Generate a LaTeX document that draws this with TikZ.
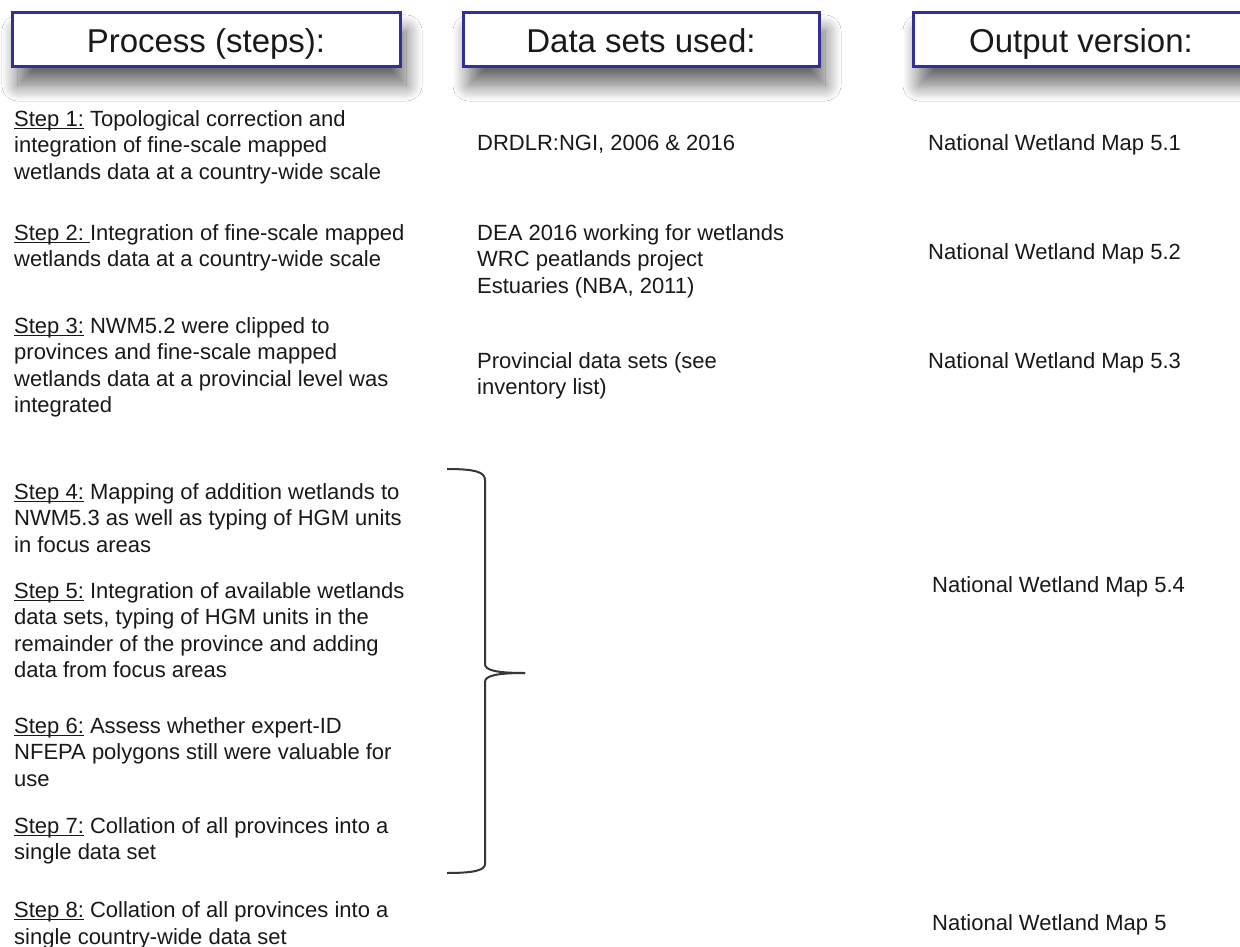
\documentclass[tikz,border=0pt]{standalone}
\usepackage{fontspec}
\setmainfont{Liberation Sans}
\usetikzlibrary{shadows.blur}
\definecolor{boxblue}{RGB}{48,48,150}
\definecolor{txt}{RGB}{25,25,25}
\definecolor{bracecol}{RGB}{55,55,55}
\newcommand{\su}[1]{{\setbox0\hbox{#1}\rlap{\rule[-3pt]{\wd0}{1.3pt}}\box0}}
\begin{document}
\begin{tikzpicture}[x=1pt,y=-1pt,
  hdr/.style={draw=boxblue, line width=3pt, fill=white, minimum height=54pt,
    inner sep=0pt, text height=26pt, text depth=0pt,
    font=\fontsize{33}{40}\selectfont, text=txt,
    blur shadow={shadow xshift=6pt, shadow yshift=-18pt, shadow blur radius=16pt,
      shadow blur steps=20, shadow opacity=60}},
  body/.style={anchor=base west, inner sep=0pt, align=left,
    font=\fontsize{22}{26.6}\selectfont, text=txt},
  bracestyle/.style={draw=bracecol, line width=2pt},
]
\useasboundingbox[fill=white] (0,0) rectangle (1240,947);

% headers
\node[hdr, minimum width=388pt] (h1) at (206,40) {Process (steps):};
\node[hdr, minimum width=356pt] (h2) at (641,40) {Data sets used:};
\node[hdr, minimum width=336pt] (h3) at (1081,40) {Output version:};

% process steps (anchor = baseline of the last line)
\node[body] (s1) at (14,179.2) {\su{Step 1:} Topological correction and\\integration of fine-scale mapped\\wetlands data at a country-wide scale};
\node[body] (s2) at (14,266.6) {\su{Step 2:\ }Integration of fine-scale mapped\\wetlands data at a country-wide scale};
\node[body] (s3) at (14,412.8) {\su{Step 3:} NWM5.2 were clipped to\\provinces and fine-scale mapped\\wetlands data at a provincial level was\\integrated};
\node[body] (s4) at (14,552.2) {\su{Step 4:} Mapping of addition wetlands to\\NWM5.3 as well as typing of HGM units\\in focus areas};
\node[body] (s5) at (14,677.8) {\su{Step 5:} Integration of available wetlands\\data sets, typing of HGM units in the\\remainder of the province and adding\\data from focus areas};
\node[body] (s6) at (14,786.5) {\su{Step 6:} Assess whether expert-ID\\NFEPA polygons still were valuable for\\use};
\node[body] (s7) at (14,859.6) {\su{Step 7:} Collation of all provinces into a\\single data set};
\node[body] (s8) at (14,944) {\su{Step 8:} Collation of all provinces into a\\single country-wide data set};

% data sets
\node[body] (d1) at (477,150) {DRDLR:NGI, 2006 \& 2016};
\node[body] (d2) at (477,293.2) {DEA 2016 working for wetlands\\WRC peatlands project\\Estuaries (NBA, 2011)};
\node[body] (d3) at (477,394.6) {Provincial data sets (see\\inventory list)};

% outputs
\node[body] (o1) at (928,150) {National Wetland Map 5.1};
\node[body] (o2) at (928,259) {National Wetland Map 5.2};
\node[body] (o3) at (928,368) {National Wetland Map 5.3};
\node[body] (o4) at (932,592) {National Wetland Map 5.4};
\node[body] (o5) at (932,930) {National Wetland Map 5};

% brace
\coordinate (bt) at (447,469);
\coordinate (bb) at (447,873);
\coordinate (tip) at (525,673);
\draw[bracestyle] (bt) .. controls (475,469) and (485,472) .. (485,480)
  -- (485,664) .. controls (485,670) and (495,673) .. (tip);
\draw[bracestyle] (tip) .. controls (495,673) and (485,676) .. (485,682)
  -- (485,864) .. controls (485,870) and (475,873) .. (bb);
\end{tikzpicture}
\end{document}
